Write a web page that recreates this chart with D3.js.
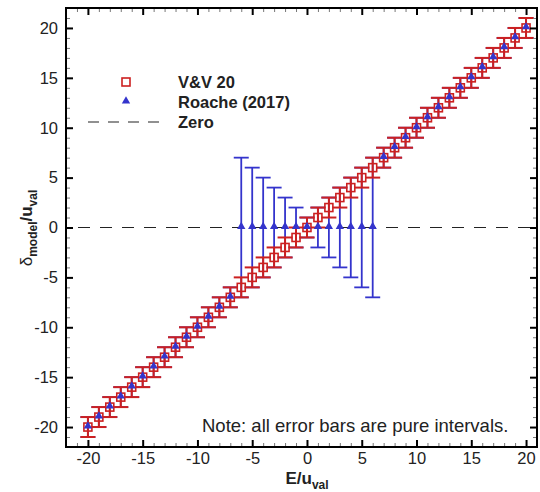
<!DOCTYPE html>
<html>
<head>
<meta charset="utf-8">
<script src="https://cdn.jsdelivr.net/npm/d3@7/dist/d3.min.js"></script>
<style>
body { margin: 0; background: #fff; }
text { font-family: Arial, "Liberation Sans", sans-serif; }
</style>
</head>
<body>
<div id="chart"></div>
<script>
// E / u_val for every point
var xValues = [-20, -19, -18, -17, -16, -15, -14, -13, -12, -11, -10, -9, -8, -7, -6, -5, -4, -3, -2, -1,
               0, 1, 2, 3, 4, 5, 6, 7, 8, 9, 10, 11, 12, 13, 14, 15, 16, 17, 18, 19, 20];
// V&V 20 estimate and its interval
var vvDelta = [-20, -19, -18, -17, -16, -15, -14, -13, -12, -11, -10, -9, -8, -7, -6, -5, -4, -3, -2, -1,
               0, 1, 2, 3, 4, 5, 6, 7, 8, 9, 10, 11, 12, 13, 14, 15, 16, 17, 18, 19, 20];
var vvLow = [-21, -20, -19, -18, -17, -16, -15, -14, -13, -12, -11, -10, -9, -8, -7, -6, -5, -4, -3, -2,
             -1, 0, 1, 2, 3, 4, 5, 6, 7, 8, 9, 10, 11, 12, 13, 14, 15, 16, 17, 18, 19];
var vvHigh = [-19, -18, -17, -16, -15, -14, -13, -12, -11, -10, -9, -8, -7, -6, -5, -4, -3, -2, -1, 0,
              1, 2, 3, 4, 5, 6, 7, 8, 9, 10, 11, 12, 13, 14, 15, 16, 17, 18, 19, 20, 21];
// Roache (2017) estimate and its interval
var roacheDelta = [-20, -19, -18, -17, -16, -15, -14, -13, -12, -11, -10, -9, -8, -7, 0, 0, 0, 0, 0, 0,
                   0, 0, 0, 0, 0, 0, 0, 7, 8, 9, 10, 11, 12, 13, 14, 15, 16, 17, 18, 19, 20];
var roacheLow = [-21, -20, -19, -18, -17, -16, -15, -14, -13, -12, -11, -10, -9, -8, -7, -6, -5, -4, -3, -2,
                 -1, -2, -3, -4, -5, -6, -7, 6, 7, 8, 9, 10, 11, 12, 13, 14, 15, 16, 17, 18, 19];
var roacheHigh = [-19, -18, -17, -16, -15, -14, -13, -12, -11, -10, -9, -8, -7, -6, 7, 6, 5, 4, 3, 2,
                  1, 2, 3, 4, 5, 6, 7, 8, 9, 10, 11, 12, 13, 14, 15, 16, 17, 18, 19, 20, 21];

var xDomain = [-22, 21];
var yDomain = [-22, 22];
var majorTicks = [-20, -15, -10, -5, 0, 5, 10, 15, 20];
var minorTicks = [-22, -21, -19, -18, -17, -16, -14, -13, -12, -11, -9, -8, -7, -6, -4, -3, -2, -1,
                  1, 2, 3, 4, 6, 7, 8, 9, 11, 12, 13, 14, 16, 17, 18, 19, 21, 22];
var legendLabels = ["V&V 20", "Roache (2017)", "Zero"];
var noteText = "Note: all error bars are pure intervals.";

var red = "#cc2020";
var blue = "#3434cc";

var width = 540, height = 492;
var plot = { left: 66, right: 537, top: 8, bottom: 447 };

var svg = d3.select("#chart").append("svg")
    .attr("width", width)
    .attr("height", height);

var x = d3.scaleLinear().domain(xDomain).range([plot.left, plot.right]);
var y = d3.scaleLinear().domain(yDomain).range([plot.bottom, plot.top]);

var rows = xValues.map(function(v, i) {
    return { x: v, vv: vvDelta[i], vvLo: vvLow[i], vvHi: vvHigh[i],
             ro: roacheDelta[i], roLo: roacheLow[i], roHi: roacheHigh[i] };
});

function in_domain(scale)
{
    return function(t) { return t >= scale.domain()[0] && t <= scale.domain()[1]; };
}

/**
 * Draws major (labelled or not) and minor ticks on one side of the frame.
 */
function draw_axis(axisFn, translate, scale, labelled, padding)
{
    var major = axisFn(scale)
        .tickValues(majorTicks.filter(in_domain(scale)))
        .tickSizeInner(-7)
        .tickSizeOuter(0)
        .tickPadding(padding)
        .tickFormat(labelled ? function(d) { return String(d); } : "");
    var minor = axisFn(scale)
        .tickValues(minorTicks.filter(in_domain(scale)))
        .tickSizeInner(-4)
        .tickSizeOuter(0)
        .tickFormat("");
    var gMinor = svg.append("g").attr("transform", translate).call(minor);
    gMinor.select(".domain").remove();
    gMinor.selectAll("line").attr("stroke", "#777").attr("stroke-width", 1);
    var g = svg.append("g").attr("transform", translate).call(major);
    g.select(".domain").remove();
    g.selectAll("line").attr("stroke", "#000").attr("stroke-width", 2);
    g.selectAll("text")
        .attr("font-size", 16.5)
        .attr("fill", "#222")
        .style("font-family", "Arial, 'Liberation Sans', sans-serif");
    return g;
}

// zero line
svg.append("line")
    .attr("x1", x(xDomain[0])).attr("x2", x(xDomain[1]))
    .attr("y1", y(0)).attr("y2", y(0))
    .attr("stroke", "#222")
    .attr("stroke-width", 1.2)
    .attr("stroke-dasharray", "12,10")
    .attr("stroke-dashoffset", -12);

/**
 * Vertical error bars with end caps.
 */
function draw_bars(key_lo, key_hi, colour, width_px, cls)
{
    var cap = 7.5;
    var g = svg.append("g").attr("class", cls)
        .attr("stroke", colour)
        .attr("stroke-width", width_px);
    var bar = g.selectAll("g").data(rows).enter().append("g");
    bar.append("line")
        .attr("x1", function(d) { return x(d.x); })
        .attr("x2", function(d) { return x(d.x); })
        .attr("y1", function(d) { return y(d[key_lo]); })
        .attr("y2", function(d) { return y(d[key_hi]); });
    bar.append("line")
        .attr("x1", function(d) { return x(d.x) - cap; })
        .attr("x2", function(d) { return x(d.x) + cap; })
        .attr("y1", function(d) { return y(d[key_lo]); })
        .attr("y2", function(d) { return y(d[key_lo]); });
    bar.append("line")
        .attr("x1", function(d) { return x(d.x) - cap; })
        .attr("x2", function(d) { return x(d.x) + cap; })
        .attr("y1", function(d) { return y(d[key_hi]); })
        .attr("y2", function(d) { return y(d[key_hi]); });
}

draw_bars("roLo", "roHi", blue, 1.8, "roache-bars");
draw_bars("vvLo", "vvHi", red, 2, "vv-bars");

var sq = 8;
svg.append("g").selectAll("rect").data(rows).enter().append("rect")
    .attr("x", function(d) { return x(d.x) - sq / 2; })
    .attr("y", function(d) { return y(d.vv) - sq / 2; })
    .attr("width", sq).attr("height", sq)
    .attr("fill", "none")
    .attr("stroke", red)
    .attr("stroke-width", 1.6);

var tri = d3.symbol().type(d3.symbolTriangle).size(30);
svg.append("g").selectAll("path").data(rows).enter().append("path")
    .attr("d", tri)
    .attr("transform", function(d) { return "translate(" + x(d.x) + "," + (y(d.ro) - 1) + ")"; })
    .attr("fill", blue);

// frame and ticks
draw_axis(d3.axisBottom, "translate(0," + plot.bottom + ")", x, true, 5);
draw_axis(d3.axisTop, "translate(0," + plot.top + ")", x, false, 5);
draw_axis(d3.axisLeft, "translate(" + plot.left + ",0)", y, true, 8);
draw_axis(d3.axisRight, "translate(" + plot.right + ",0)", y, false, 8);

svg.append("rect")
    .attr("x", plot.left).attr("y", plot.top)
    .attr("width", plot.right - plot.left)
    .attr("height", plot.bottom - plot.top)
    .attr("fill", "none")
    .attr("stroke", "#000")
    .attr("stroke-width", 2);

// legend
var legend = svg.append("g");
legend.append("rect")
    .attr("x", 122).attr("y", 78).attr("width", 8).attr("height", 8)
    .attr("fill", "none").attr("stroke", red).attr("stroke-width", 1.6);
legend.append("path")
    .attr("d", tri)
    .attr("transform", "translate(126,101)")
    .attr("fill", blue);
legend.append("line")
    .attr("x1", 88).attr("x2", 164).attr("y1", 122).attr("y2", 122)
    .attr("stroke", "#222").attr("stroke-width", 1.2)
    .attr("stroke-dasharray", "11,9");
legend.selectAll("text").data(legendLabels).enter().append("text")
    .attr("x", 178)
    .attr("y", function(d, i) { return 88 + i * 20; })
    .attr("font-size", 16.5)
    .attr("font-weight", "bold")
    .attr("fill", "#222")
    .text(function(d) { return d; });

svg.append("text")
    .attr("x", 202).attr("y", 432)
    .attr("font-size", 18.5)
    .attr("fill", "#222")
    .text(noteText);

// axis titles
var xt = svg.append("text")
    .attr("x", 307).attr("y", 484)
    .attr("text-anchor", "middle")
    .attr("font-size", 17)
    .attr("font-weight", "bold")
    .attr("fill", "#222");
xt.append("tspan").text("E/u");
xt.append("tspan").attr("font-size", 12).attr("dy", 5).text("val");

var yt = svg.append("text")
    .attr("transform", "translate(32,228) rotate(-90)")
    .attr("text-anchor", "middle")
    .attr("font-size", 17)
    .attr("font-weight", "bold")
    .attr("fill", "#222");
yt.append("tspan").attr("font-weight", "normal").text("\u03b4");
yt.append("tspan").attr("font-size", 12).attr("dy", 5).text("model");
yt.append("tspan").attr("dy", -5).text("/u");
yt.append("tspan").attr("font-size", 12).attr("dy", 5).text("val");
</script>
</body>
</html>
